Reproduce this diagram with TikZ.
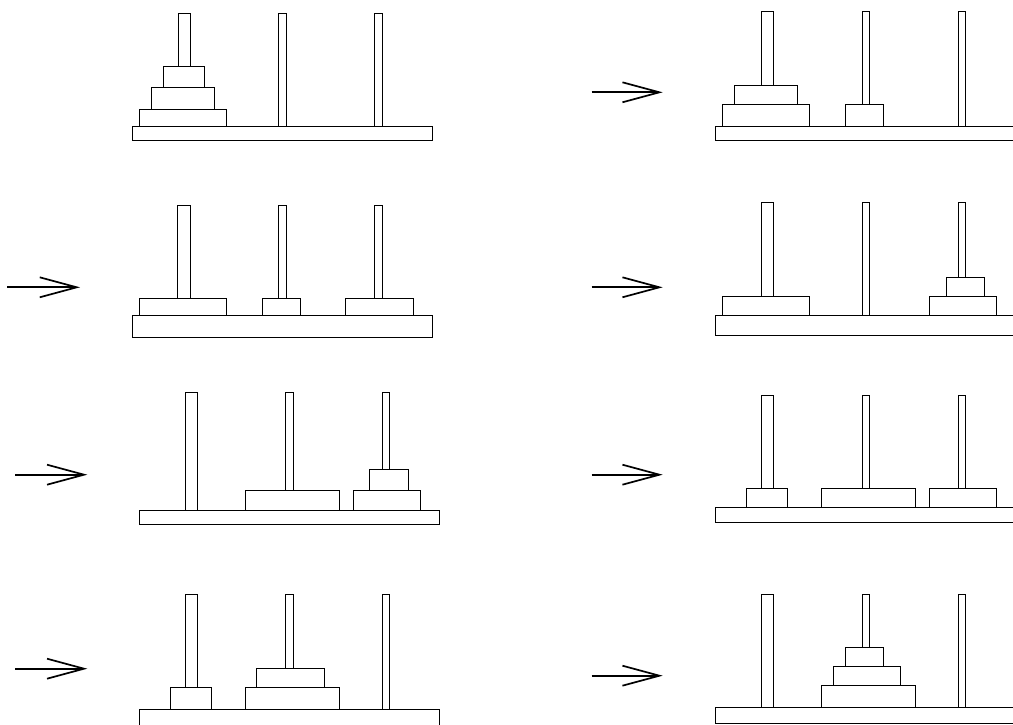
\documentclass[tikz,border=0pt]{standalone}
\usepackage{tikz}
\usetikzlibrary{arrows.meta}

\begin{document}
\begin{tikzpicture}[x=1pt, y=-1pt,
    board/.style={draw, fill=white, line width=0.8pt},
    peg/.style={draw, fill=white, line width=0.8pt},
    disk/.style={draw, fill=white, line width=0.8pt},
    move/.style={line width=1.7pt, -{Straight Barb[length=37pt, width=20pt, line width=1.7pt]}}]
  \useasboundingbox (0,0) rectangle (1013,725);
  \clip (0,0) rectangle (1013,725);
  % state 1
  \foreach \a/\b in {178/190, 278.3/286, 374.5/382.3}
    \draw[peg] (\a,13.3) rectangle (\b,126);
  \draw[disk] (139.3,109) rectangle (226,126);
  \draw[disk] (151.7,87.3) rectangle (214,109);
  \draw[disk] (163.3,66) rectangle (204.3,87.3);
  \draw[board] (132.3,126) rectangle (432.3,140.7);
  % state 2
  \draw[move] (591.7,92.3) -- (662.7,92.3);
  \foreach \a/\b in {761.3/773, 862/869, 958/965.7}
    \draw[peg] (\a,11) rectangle (\b,126);
  \draw[disk] (722.7,104.7) rectangle (809.3,126);
  \draw[disk] (734.3,85.3) rectangle (797.3,104.7);
  \draw[disk] (845.3,104.7) rectangle (883.3,126);
  \draw[board] (715.3,126) rectangle (1015.3,140.7);
  % state 3
  \draw[move] (7.3,287.3) -- (80,287.3);
  \foreach \a/\b in {177.7/190.3, 278.7/286, 374.7/382.3}
    \draw[peg] (\a,205.3) rectangle (\b,315.7);
  \draw[disk] (139.7,298.7) rectangle (226,315.7);
  \draw[disk] (262,298.7) rectangle (300.3,315.7);
  \draw[disk] (345.7,298.7) rectangle (413.3,315.7);
  \draw[board] (132.3,315.7) rectangle (432.3,337.3);
  % state 4
  \draw[move] (591.7,287.3) -- (662.7,287.3);
  \foreach \a/\b in {761.3/773, 862/869.3, 958/965.7}
    \draw[peg] (\a,202.7) rectangle (\b,315.7);
  \draw[disk] (722.7,296.7) rectangle (809.3,315.7);
  \draw[disk] (929.3,296.7) rectangle (996.7,315.7);
  \draw[disk] (946,277.3) rectangle (984.7,296.7);
  \draw[board] (715.3,315.7) rectangle (1015.3,335);
  % state 5
  \draw[move] (15,474.7) -- (87.3,474.7);
  \foreach \a/\b in {185/197.3, 285.7/293.3, 382/389.3}
    \draw[peg] (\a,392.7) rectangle (\b,510);
  \draw[disk] (245,490.7) rectangle (339,510);
  \draw[disk] (353.3,490.7) rectangle (420.3,510);
  \draw[disk] (369.7,469.3) rectangle (408.3,490.7);
  \draw[board] (139.7,510) rectangle (439.7,524.7);
  % state 6
  \draw[move] (591.7,474.7) -- (662.7,474.7);
  \foreach \a/\b in {761.3/773, 862/869.3, 958/965.7}
    \draw[peg] (\a,395) rectangle (\b,507.7);
  \draw[disk] (746.7,488.3) rectangle (787.3,507.7);
  \draw[disk] (821.3,488.3) rectangle (915,507.7);
  \draw[disk] (929.3,488.3) rectangle (996.7,507.7);
  \draw[board] (715.3,507.7) rectangle (1015.3,522.3);
  % state 7
  \draw[move] (15,668.7) -- (87.3,668.7);
  \foreach \a/\b in {185/197.3, 285.7/293.3, 382/389.3}
    \draw[peg] (\a,594.3) rectangle (\b,709.3);
  \draw[disk] (170.7,687.7) rectangle (211.3,709.3);
  \draw[disk] (245,687.7) rectangle (339,709.3);
  \draw[disk] (256.7,668.3) rectangle (324.3,687.7);
  \draw[board] (139.7,709.3) rectangle (439.7,730);
  % state 8
  \draw[move] (591.7,675.7) -- (662.7,675.7);
  \foreach \a/\b in {761.3/773, 862/869, 958/965.7}
    \draw[peg] (\a,594.3) rectangle (\b,707);
  \draw[disk] (821.3,685.3) rectangle (915,707);
  \draw[disk] (833.3,666) rectangle (900.7,685.3);
  \draw[disk] (845.3,647) rectangle (883.7,666);
  \draw[board] (715.3,707) rectangle (1015.3,723.7);
\end{tikzpicture}
\end{document}
